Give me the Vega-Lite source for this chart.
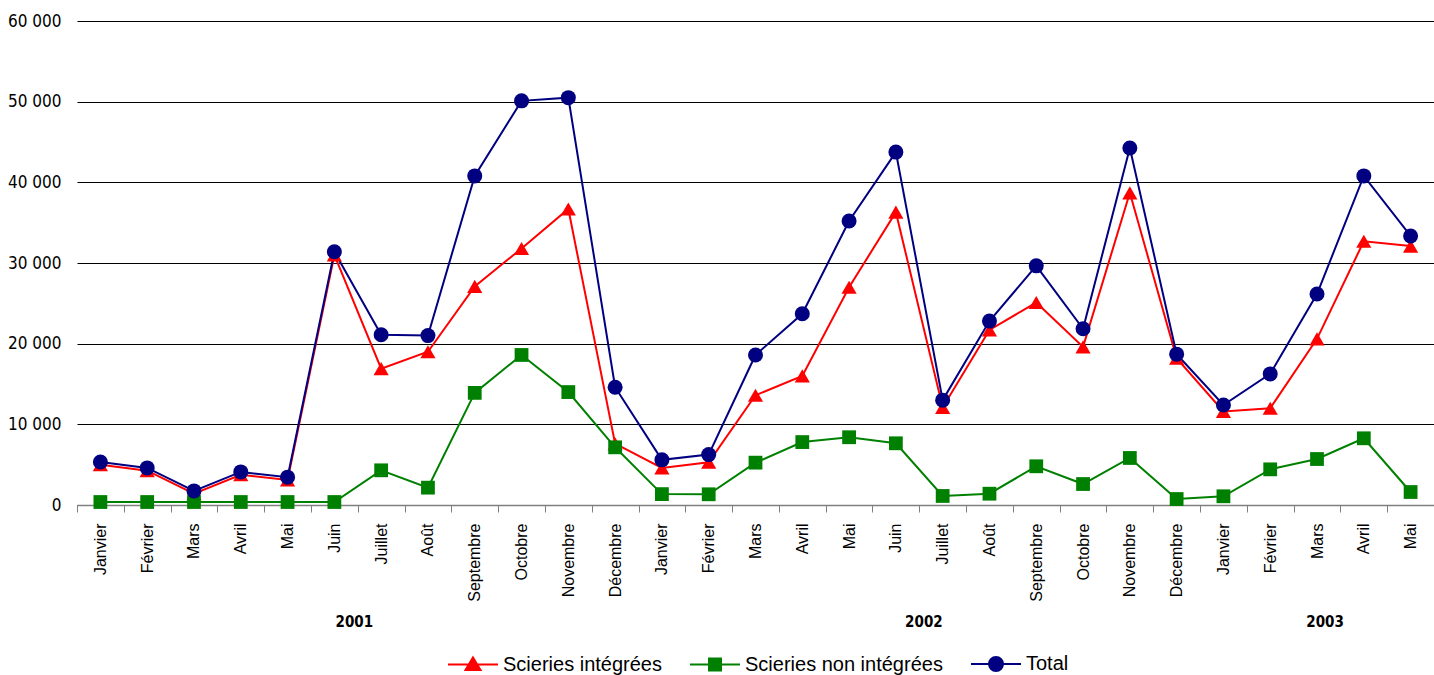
{
  "$schema": "https://vega.github.io/schema/vega-lite/v6.json",
  "width": 1357,
  "height": 484,
  "autosize": {"type": "none"},
  "padding": {"left": 77, "top": 21, "right": 0, "bottom": 170},
  "background": "white",
  "config": {"view": {"stroke": null}, "font": "Liberation Sans"},
  "data": {
    "values": [
      {"mois": "2001|Janvier", "Scieries intégrées": 5000, "Scieries non intégrées": 370, "Total": 5330},
      {"mois": "2001|Février", "Scieries intégrées": 4250, "Scieries non intégrées": 370, "Total": 4600},
      {"mois": "2001|Mars", "Scieries intégrées": 1400, "Scieries non intégrées": 370, "Total": 1750},
      {"mois": "2001|Avril", "Scieries intégrées": 3750, "Scieries non intégrées": 370, "Total": 4100},
      {"mois": "2001|Mai", "Scieries intégrées": 3100, "Scieries non intégrées": 370, "Total": 3450},
      {"mois": "2001|Juin", "Scieries intégrées": 31000, "Scieries non intégrées": 370, "Total": 31400},
      {"mois": "2001|Juillet", "Scieries intégrées": 16900, "Scieries non intégrées": 4300, "Total": 21100},
      {"mois": "2001|Août", "Scieries intégrées": 19000, "Scieries non intégrées": 2150, "Total": 21000},
      {"mois": "2001|Septembre", "Scieries intégrées": 27100, "Scieries non intégrées": 13900, "Total": 40800},
      {"mois": "2001|Octobre", "Scieries intégrées": 31800, "Scieries non intégrées": 18600, "Total": 50100},
      {"mois": "2001|Novembre", "Scieries intégrées": 36700, "Scieries non intégrées": 14000, "Total": 50500},
      {"mois": "2001|Décembre", "Scieries intégrées": 7600, "Scieries non intégrées": 7150, "Total": 14600},
      {"mois": "2002|Janvier", "Scieries intégrées": 4600, "Scieries non intégrées": 1350, "Total": 5600},
      {"mois": "2002|Février", "Scieries intégrées": 5300, "Scieries non intégrées": 1330, "Total": 6250},
      {"mois": "2002|Mars", "Scieries intégrées": 13600, "Scieries non intégrées": 5250, "Total": 18600},
      {"mois": "2002|Avril", "Scieries intégrées": 16000, "Scieries non intégrées": 7800, "Total": 23700},
      {"mois": "2002|Mai", "Scieries intégrées": 27000, "Scieries non intégrées": 8400, "Total": 35200},
      {"mois": "2002|Juin", "Scieries intégrées": 36300, "Scieries non intégrées": 7650, "Total": 43750},
      {"mois": "2002|Juillet", "Scieries intégrées": 12100, "Scieries non intégrées": 1120, "Total": 13000},
      {"mois": "2002|Août", "Scieries intégrées": 21700, "Scieries non intégrées": 1400, "Total": 22800},
      {"mois": "2002|Septembre", "Scieries intégrées": 25100, "Scieries non intégrées": 4800, "Total": 29650},
      {"mois": "2002|Octobre", "Scieries intégrées": 19600, "Scieries non intégrées": 2600, "Total": 21850},
      {"mois": "2002|Novembre", "Scieries intégrées": 38700, "Scieries non intégrées": 5830, "Total": 44250},
      {"mois": "2002|Décembre", "Scieries intégrées": 18200, "Scieries non intégrées": 740, "Total": 18700},
      {"mois": "2003|Janvier", "Scieries intégrées": 11600, "Scieries non intégrées": 1080, "Total": 12400},
      {"mois": "2003|Février", "Scieries intégrées": 12000, "Scieries non intégrées": 4420, "Total": 16250},
      {"mois": "2003|Mars", "Scieries intégrées": 20600, "Scieries non intégrées": 5700, "Total": 26150},
      {"mois": "2003|Avril", "Scieries intégrées": 32700, "Scieries non intégrées": 8270, "Total": 40800},
      {"mois": "2003|Mai", "Scieries intégrées": 32100, "Scieries non intégrées": 1610, "Total": 33350}
    ]
  },
  "transform": [
    {"fold": ["Scieries intégrées", "Scieries non intégrées", "Total"], "as": ["serie", "valeur"]}
  ],
  "encoding": {
    "x": {
      "field": "mois", "type": "ordinal", "sort": null, "bandPosition": 0.5,
      "scale": {"type": "band", "paddingInner": 0, "paddingOuter": 0},
      "axis": null
    },
    "y": {
      "field": "valeur", "type": "quantitative",
      "scale": {"domain": [0, 60000], "nice": false}
    }
  },
  "layer": [
    {
      "mark": {"type": "line", "strokeWidth": 2},
      "encoding": {
        "x": {
          "field": "mois", "type": "ordinal", "sort": null, "bandPosition": 0.5,
          "scale": {"type": "band", "paddingInner": 0, "paddingOuter": 0},
          "axis": {
            "title": null, "orient": "bottom",
            "labelExpr": "split(datum.value, '|')[1]",
            "labelAngle": -90, "labelFontSize": 16, "labelColor": "#000",
            "labelFont": "Liberation Sans",
            "labelPadding": 11, "tickBand": "extent", "tickSize": 7,
            "tickColor": "#808080", "domainColor": "#808080", "domainWidth": 1.5,
            "grid": false
          }
        },
        "y": {
          "field": "valeur", "type": "quantitative",
          "scale": {"domain": [0, 60000], "nice": false},
          "axis": {
            "title": null,
            "values": [0, 10000, 20000, 30000, 40000, 50000, 60000],
            "labelExpr": "replace(format(datum.value, ','), ',', ' ')",
            "labelFont": "Liberation Sans Narrow, DejaVu Sans Condensed, Roboto Condensed, Liberation Sans, sans-serif",
            "labelFontSize": 17, "labelColor": "#000",
            "labelPadding": 16, "ticks": false, "domain": false,
            "grid": true, "gridColor": "#000", "gridWidth": 1, "labelBaseline": "middle"
          }
        },
        "color": {
          "field": "serie", "type": "nominal",
          "scale": {"domain": ["Scieries intégrées", "Scieries non intégrées", "Total"], "range": ["#FF0000", "#008000", "#000080"]},
          "legend": {
            "orient": "none", "legendX": 370, "legendY": 617, "direction": "horizontal",
            "title": null, "symbolSize": 2500, "symbolStrokeWidth": 2,
            "labelFontSize": 20, "labelFont": "Liberation Sans", "labelColor": "#000",
            "labelOffset": 4, "columnPadding": 24, "labelLimit": 400, "padding": 0,
            "encode": {
              "symbols": {
                "update": {
                  "shape": {"signal": "datum.value === 'Total' ? 'M-1,0L1,0M0.28,0A0.28,0.28,0,1,1,-0.28,0A0.28,0.28,0,1,1,0.28,0Z' : datum.value === 'Scieries intégrées' ? 'M-1,0L1,0M0,-0.28L0.3,0.22L-0.3,0.22Z' : 'M-1,0L1,0M-0.24,-0.24L0.24,-0.24L0.24,0.24L-0.24,0.24Z'"},
                  "fill": {"signal": "scale('color', datum.value)"},
                  "stroke": {"signal": "scale('color', datum.value)"},
                  "opacity": {"value": 1},
                  "fillOpacity": {"value": 1},
                  "strokeWidth": {"value": 2}
                }
              }
            }
          }
        }
      }
    },
    {
      "transform": [{"filter": "datum.serie === 'Scieries intégrées'"}],
      "mark": {"type": "point", "filled": true, "opacity": 1, "shape": "triangle-up", "size": 230, "color": "#FF0000"}
    },
    {
      "transform": [{"filter": "datum.serie === 'Scieries non intégrées'"}],
      "mark": {"type": "point", "filled": true, "opacity": 1, "shape": "square", "size": 190, "color": "#008000"}
    },
    {
      "transform": [{"filter": "datum.serie === 'Total'"}],
      "mark": {"type": "point", "filled": true, "opacity": 1, "shape": "circle", "size": 225, "color": "#000080"}
    },
    {
      "mark": {"type": "point", "opacity": 0},
      "encoding": {
        "x": {
          "field": "mois", "type": "ordinal", "sort": null,
          "scale": {"type": "band", "paddingInner": 0, "paddingOuter": 0},
          "axis": {
            "orient": "bottom", "title": null,
            "values": ["2001|Juin"], "labelOffset": 20,
            "labelExpr": "slice(datum.value, 0, 4)",
            "labelAngle": 0, "labelAlign": "center", "labelBaseline": "middle",
            "labelFont": "Liberation Sans Narrow, DejaVu Sans Condensed, Roboto Condensed, Liberation Sans, sans-serif",
            "labelFontWeight": "bold", "labelFontSize": 15,
            "labelColor": "#000", "domain": false, "ticks": false, "tickSize": 0,
            "grid": false, "labelPadding": 0, "offset": 116
          }
        }
      }
    },
    {
      "mark": {"type": "point", "opacity": 0},
      "encoding": {
        "x": {
          "field": "mois", "type": "ordinal", "sort": null,
          "scale": {"type": "band", "paddingInner": 0, "paddingOuter": 0},
          "axis": {
            "orient": "bottom", "title": null,
            "values": ["2002|Juin"], "labelOffset": 28,
            "labelExpr": "slice(datum.value, 0, 4)",
            "labelAngle": 0, "labelAlign": "center", "labelBaseline": "middle",
            "labelFont": "Liberation Sans Narrow, DejaVu Sans Condensed, Roboto Condensed, Liberation Sans, sans-serif",
            "labelFontWeight": "bold", "labelFontSize": 15,
            "labelColor": "#000", "domain": false, "ticks": false, "tickSize": 0,
            "grid": false, "labelPadding": 0, "offset": 116
          }
        }
      }
    },
    {
      "mark": {"type": "point", "opacity": 0},
      "encoding": {
        "x": {
          "field": "mois", "type": "ordinal", "sort": null,
          "scale": {"type": "band", "paddingInner": 0, "paddingOuter": 0},
          "axis": {
            "orient": "bottom", "title": null,
            "values": ["2003|Mars"], "labelOffset": 8,
            "labelExpr": "slice(datum.value, 0, 4)",
            "labelAngle": 0, "labelAlign": "center", "labelBaseline": "middle",
            "labelFont": "Liberation Sans Narrow, DejaVu Sans Condensed, Roboto Condensed, Liberation Sans, sans-serif",
            "labelFontWeight": "bold", "labelFontSize": 15,
            "labelColor": "#000", "domain": false, "ticks": false, "tickSize": 0,
            "grid": false, "labelPadding": 0, "offset": 116
          }
        }
      }
    }
  ],
  "resolve": {"axis": {"x": "independent"}}
}
